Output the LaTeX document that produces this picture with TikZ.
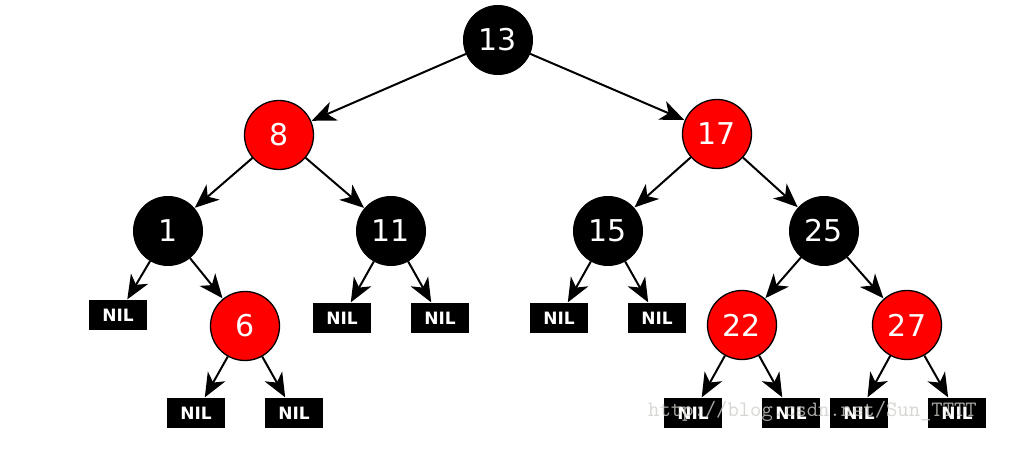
\documentclass[tikz,border=0pt]{standalone}
\usepackage{fontspec}
\setmainfont{DejaVu Sans}
\usetikzlibrary{arrows.meta}
\definecolor{rbred}{RGB}{255,0,0}
\definecolor{wmgray}{RGB}{205,205,200}
\begin{document}
\begin{tikzpicture}[x=1pt,y=-1pt,
  rbnode/.style={circle,minimum size=69pt,inner sep=0pt,text=white,font=\fontsize{30}{30}\selectfont},
  blacknode/.style={rbnode,fill=black,draw=black,line width=1pt},
  rednode/.style={rbnode,fill=rbred,draw=black,line width=1.3pt},
  nilbox/.style={rectangle,fill=black,minimum width=58pt,minimum height=30pt,inner sep=0pt,text=white,font=\bfseries\fontsize{17}{17}\selectfont},
  treeedge/.style={line width=2pt,-{Stealth[length=24pt,width=20pt,inset=7pt]},shorten >=0.5pt}
]
\useasboundingbox (0,0) rectangle (1013,449);
\fill[white] (0,0) rectangle (1013,449);
% circle nodes
\node[blacknode] (n13) at (498,40) {13};
\node[rednode] (n8) at (279,135) {8};
\node[rednode] (n17) at (717,134) {17};
\node[blacknode] (n1) at (168,231) {1};
\node[blacknode] (n11) at (391,231) {11};
\node[blacknode] (n15) at (608,231) {15};
\node[blacknode] (n25) at (824,231) {25};
\node[rednode] (n6) at (245,326) {6};
\node[rednode] (n22) at (742,325) {22};
\node[rednode] (n27) at (907,325) {27};
% NIL leaves
\node[nilbox] (l1) at (118,315) {NIL};
\node[nilbox] (l11a) at (342,318) {NIL};
\node[nilbox] (l11b) at (440,318) {NIL};
\node[nilbox] (l15a) at (559,318) {NIL};
\node[nilbox] (l15b) at (657,318) {NIL};
\node[nilbox] (l6a) at (196,413) {NIL};
\node[nilbox] (l6b) at (294,413) {NIL};
\node[nilbox] (l22a) at (693,413) {NIL};
\node[nilbox] (l22b) at (791,413) {NIL};
\node[nilbox] (l27a) at (859,413) {NIL};
\node[nilbox] (l27b) at (957,413) {NIL};
% edges
\draw[treeedge] (n13) -- (n8);
\draw[treeedge] (n13) -- (n17);
\draw[treeedge] (n8) -- (n1);
\draw[treeedge] (n8) -- (n11);
\draw[treeedge] (n17) -- (n15);
\draw[treeedge] (n17) -- (n25);
\draw[treeedge] (n1) -- (l1);
\draw[treeedge] (n1) -- (n6);
\draw[treeedge] (n11) -- (l11a);
\draw[treeedge] (n11) -- (l11b);
\draw[treeedge] (n15) -- (l15a);
\draw[treeedge] (n15) -- (l15b);
\draw[treeedge] (n25) -- (n22);
\draw[treeedge] (n25) -- (n27);
\draw[treeedge] (n6) -- (l6a);
\draw[treeedge] (n6) -- (l6b);
\draw[treeedge] (n22) -- (l22a);
\draw[treeedge] (n22) -- (l22b);
\draw[treeedge] (n27) -- (l27a);
\draw[treeedge] (n27) -- (l27b);
% watermark
\node[anchor=west,inner sep=0pt,text=wmgray,opacity=0.8,font=\ttfamily\fontsize{22}{22}\selectfont] (wm) at (648,411) {http://blog.csdn.net/Sun\_TTTT};
\end{tikzpicture}
\end{document}
